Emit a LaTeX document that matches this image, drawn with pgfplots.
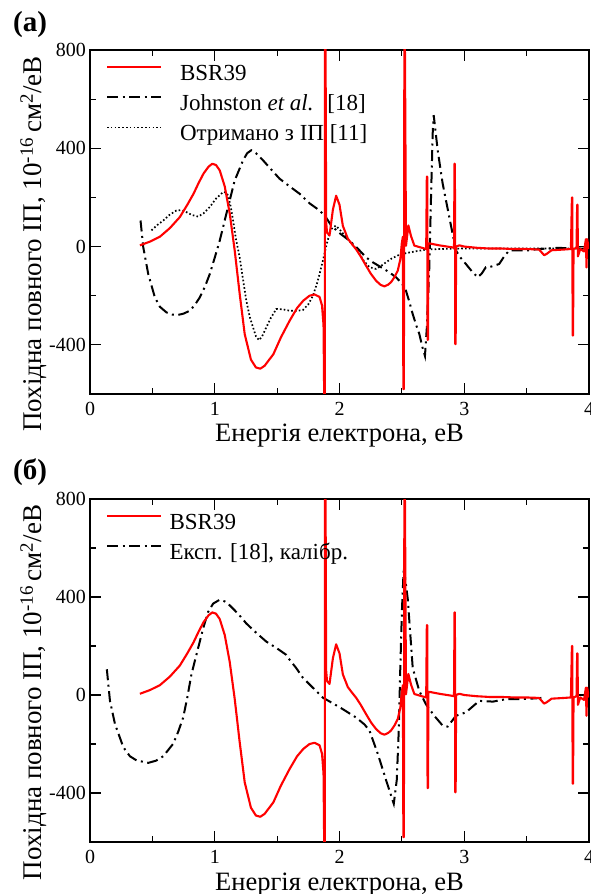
\documentclass[border=0pt]{standalone}
\usepackage{fontspec}
\setmainfont{Liberation Serif}
\usepackage{pgfplots}
\usepackage{pgfplotstable}
\pgfplotsset{compat=1.18}

\pgfplotstableread{
E v
0.40 5
0.48 20
0.56 40
0.64 75
0.72 120
0.78 170
0.83 215
0.87 258
0.91 297
0.95 325
0.98 337
1.01 332
1.04 310
1.08 245
1.12 135
1.16 -16
1.20 -193
1.24 -356
1.29 -460
1.33 -492
1.365 -497
1.40 -485
1.47 -438
1.53 -370
1.60 -302
1.66 -250
1.71 -220
1.76 -200
1.80 -195
1.84 -205
1.86 -240
1.872 -320
1.878 -650
1.882 -650
1.884 850
1.888 850
1.893 100
1.90 57
1.92 45
1.947 150
1.973 207
2.00 170
2.027 84
2.067 32
2.10 10
2.133 -11
2.17 -40
2.213 -78
2.253 -112
2.293 -139
2.33 -156
2.36 -162
2.39 -155
2.413 -145
2.44 -125
2.467 -98
2.488 -51
2.50 16
2.508 40
2.512 -580
2.516 -580
2.52 850
2.524 850
2.533 3
2.552 86
2.573 43
2.60 4
2.66 -5
2.695 -10
2.700 285
2.703 285
2.706 -380
2.709 -380
2.713 10
2.72 13
2.80 5
2.90 -3
2.918 -5
2.922 337
2.925 337
2.928 -397
2.931 -397
2.935 0
2.96 5
3.00 0
3.10 -5
3.20 -8
3.30 -8
3.40 -10
3.50 -10
3.60 -12
3.64 -35
3.66 -30
3.70 -15
3.80 -12
3.855 -10
3.863 200
3.866 200
3.869 -362
3.872 -362
3.876 -10
3.90 -5
3.905 170
3.908 170
3.911 -40
3.93 -10
3.96 -20
3.975 30
3.98 -85
3.985 30
4.00 -10
}\bsr

\pgfplotstableread{
E v
0.405 106
0.427 -3
0.467 -112
0.52 -207
0.56 -245
0.613 -268
0.66 -277
0.707 -278
0.75 -273
0.80 -261
0.84 -238
0.88 -207
0.92 -165
0.96 -112
1.00 -45
1.04 24
1.093 133
1.16 269
1.227 351
1.26 380
1.293 392
1.33 380
1.387 351
1.45 315
1.52 276
1.60 245
1.68 215
1.76 176
1.84 147
1.89 120
1.933 86
2.00 55
2.08 24
2.15 -10
2.213 -44
2.27 -65
2.333 -84
2.40 -105
2.453 -125
2.50 -150
2.533 -180
2.56 -225
2.587 -275
2.615 -320
2.64 -356
2.665 -410
2.685 -445
2.70 -330
2.72 -84
2.733 188
2.747 460
2.755 535
2.787 392
2.827 256
2.88 120
2.933 -16
2.97 -45
3.013 -71
3.06 -100
3.107 -125
3.14 -110
3.173 -84
3.20 -84
3.28 -71
3.32 -40
3.36 -16
3.50 -16
3.60 -10
3.76 -5
3.85 -8
3.95 -8
}\johnston

\pgfplotstableread{
E v
0.493 66
0.54 88
0.587 106
0.64 130
0.693 147
0.73 148
0.773 140
0.82 128
0.867 122
0.91 135
0.96 161
1.01 195
1.067 222
1.09 220
1.107 208
1.127 165
1.147 106
1.17 30
1.20 -44
1.227 -135
1.253 -220
1.28 -285
1.307 -329
1.33 -365
1.355 -381
1.38 -365
1.413 -329
1.45 -290
1.493 -254
1.54 -255
1.60 -261
1.65 -262
1.707 -258
1.75 -235
1.787 -200
1.82 -150
1.84 -112
1.867 -57
1.90 15
1.93 70
1.97 85
2.00 70
2.05 40
2.10 10
2.147 -16
2.19 -55
2.24 -84
2.293 -91
2.33 -80
2.373 -64
2.42 -48
2.48 -33
2.55 -25
2.613 -19
2.70 -12
2.80 -10
3.00 -8
3.50 -8
4.00 -8
}\ip

\pgfplotstableread{
E v
0.135 105
0.16 -24
0.20 -118
0.267 -213
0.32 -250
0.373 -267
0.467 -277
0.53 -268
0.587 -250
0.667 -199
0.707 -150
0.747 -92
0.78 -10
0.813 84
0.853 164
0.907 272
0.947 339
0.987 373
1.04 389
1.08 382
1.12 366
1.19 330
1.253 292
1.33 255
1.413 218
1.50 190
1.573 164
1.60 144
1.653 110
1.707 70
1.79 28
1.867 -11
1.95 -35
2.027 -58
2.133 -92
2.20 -120
2.24 -145
2.307 -240
2.373 -347
2.435 -444
2.459 -347
2.475 -145
2.488 124
2.501 353
2.515 521
2.547 393
2.587 110
2.64 16
2.693 -38
2.76 -85
2.827 -125
2.867 -129
2.933 -85
3.013 -71
3.12 -24
3.23 -27
3.333 -17
3.45 -17
3.53 -15
3.62 -12
}\expcal

\pgfplotsset{
  myaxis/.style={
    scale only axis, width=499pt,
    xmin=0, xmax=4, ymin=-600, ymax=800,
    xtick={0,1,2,3,4}, minor xtick={0.5,1.5,2.5,3.5},
    ytick={-400,0,400,800}, minor ytick={-200,200,600},
    major tick length=11pt, minor tick length=6pt,
    tick align=inside,
    every tick/.style={black, line width=1.1pt},
    axis line style={line width=1.2pt},
    /pgf/number format/assume math mode=true,
    tick label style={font=\fontsize{20}{22}\selectfont},
    xticklabel style={inner sep=0pt, yshift=-8pt},
    yticklabel style={inner sep=0pt, xshift=-4pt},
    xlabel={Енергія електрона, еВ},
    xlabel style={font=\fontsize{26.5}{28}\selectfont, at={(axis description cs:0.5,0)}, anchor=base, yshift=-48pt},
    ylabel={Похідна повного ІП, 10\textsuperscript{-16}\,см\textsuperscript{2}/еВ},
    ylabel style={font=\fontsize{27}{29}\selectfont, at={(axis description cs:-0.0962,0.436)}, anchor=base},
    legend cell align=left,
    legend image code/.code={\draw[#1] (0pt,7.5pt) -- (54pt,7.5pt);},
  },
  bsrstyle/.style={red, line width=2.1pt, line join=round},
  ddstyle/.style={black, line width=2pt, dash pattern=on 11pt off 4.5pt on 2pt off 4.5pt},
  dotstyle/.style={black, line width=1.7pt, dash pattern=on 1.6pt off 2.2pt},
}

\begin{document}
\begin{tikzpicture}
\path[use as bounding box] (0pt,0pt) rectangle (591pt,894pt);

\node[anchor=base west, inner sep=0pt, font=\bfseries\fontsize{29}{31}\selectfont] at (13pt,862pt) {(a)};
\node[anchor=base west, inner sep=0pt, font=\bfseries\fontsize{29}{31}\selectfont] at (13pt,414pt) {(б)};

% Panel (a)
\begin{axis}[myaxis, height=344pt, at={(90pt,500pt)}, anchor=south west,
  legend style={at={(axis description cs:0.032,0.958)}, anchor=north west, draw=none, fill=none,
    inner sep=0pt, outer sep=0pt, font=\fontsize{23}{26}\selectfont, row sep=9pt,
    nodes={inner sep=0pt, text height=16pt, text depth=5pt},
    /tikz/every odd column/.append style={column sep=18pt}}]
\addlegendimage{bsrstyle}
\addlegendentry{BSR39}
\addlegendimage{ddstyle}
\addlegendentry{Johnston \textit{et al.}\hspace{0.6em}[18]}
\addlegendimage{dotstyle}
\addlegendentry{Отримано з ІП [11]}
\addplot[dotstyle, forget plot] table[x=E, y=v] {\ip};
\addplot[ddstyle, forget plot] table[x=E, y=v] {\johnston};
\addplot[bsrstyle, forget plot] table[x=E, y=v] {\bsr};
\end{axis}

% Panel (b)
\begin{axis}[myaxis, height=343pt, at={(90pt,52pt)}, anchor=south west,
  legend style={at={(axis description cs:0.032,0.958)}, anchor=north west, draw=none, fill=none,
    inner sep=0pt, outer sep=0pt, font=\fontsize{23}{26}\selectfont, row sep=9pt,
    nodes={inner sep=0pt, text height=16pt, text depth=5pt},
    /tikz/every odd column/.append style={column sep=7.5pt}}]
\addlegendimage{bsrstyle}
\addlegendentry{BSR39}
\addlegendimage{ddstyle}
\addlegendentry{Експ. [18], калібр.}
\addplot[ddstyle, forget plot] table[x=E, y=v] {\expcal};
\addplot[bsrstyle, forget plot] table[x=E, y=v] {\bsr};
\end{axis}
\end{tikzpicture}
\end{document}
